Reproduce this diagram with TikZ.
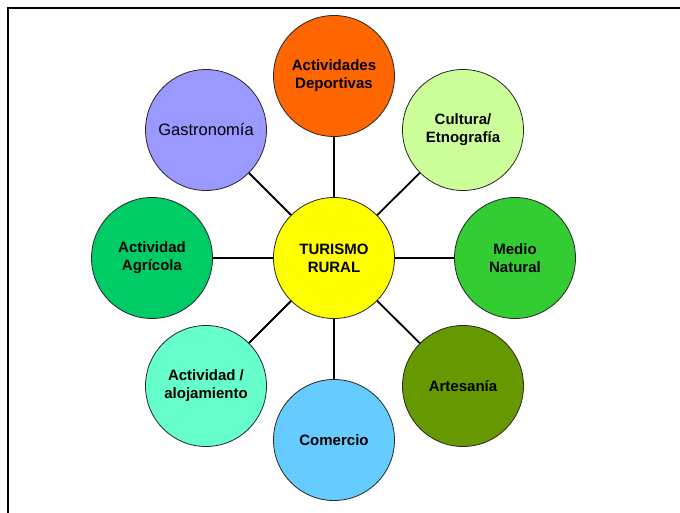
\documentclass[tikz,border=0pt]{standalone}
\usepackage{fontspec}
\setmainfont{Liberation Sans}
\definecolor{cDep}{HTML}{FF6600}
\definecolor{cCul}{HTML}{CCFF99}
\definecolor{cMed}{HTML}{33CC33}
\definecolor{cArt}{HTML}{669900}
\definecolor{cCom}{HTML}{66CCFF}
\definecolor{cAlo}{HTML}{66FFCC}
\definecolor{cAgr}{HTML}{00CC66}
\definecolor{cGas}{HTML}{9999FF}
\definecolor{cCen}{HTML}{FFFF00}
\begin{document}
\begin{tikzpicture}[x=1pt,y=-1pt,
  bub/.style={circle,draw=black!85,line width=0.8pt,minimum size=121pt,inner sep=0pt,
    align=center,font=\fontsize{15}{18}\selectfont\bfseries},
  link/.style={line width=1.8pt,black}]
\useasboundingbox (0,0) rectangle (680,513);
\begin{scope}
\clip (0,0) rectangle (680,513);
\draw[line width=2.5pt] (8,8) rectangle (720,560);
\end{scope}
\coordinate (c) at (334,258);
\draw[link] (c) -- (334,76);
\draw[link] (c) -- (463,130);
\draw[link] (c) -- (515,258);
\draw[link] (c) -- (463,386);
\draw[link] (c) -- (334,440);
\draw[link] (c) -- (206,386);
\draw[link] (c) -- (152,258);
\draw[link] (c) -- (206,130);
\node[bub,fill=cCen] (cen) at (c) {TURISMO\\RURAL};
\node[bub,fill=cDep] (dep) at (334,76) {Actividades\\Deportivas};
\node[bub,fill=cCul] (cul) at (463,130) {Cultura/\\Etnografía};
\node[bub,fill=cMed] (med) at (515,258) {Medio\\Natural};
\node[bub,fill=cArt] (art) at (463,386) {Artesanía};
\node[bub,fill=cCom] (com) at (334,440) {Comercio};
\node[bub,fill=cAlo] (alo) at (206,386) {Actividad /\\alojamiento};
\node[bub,fill=cAgr] (agr) at (152,258) {Actividad\\Agrícola};
\node[bub,fill=cGas,font=\fontsize{16.5}{19}\selectfont] (gas) at (206,130) {Gastronomía};
\end{tikzpicture}
\end{document}
